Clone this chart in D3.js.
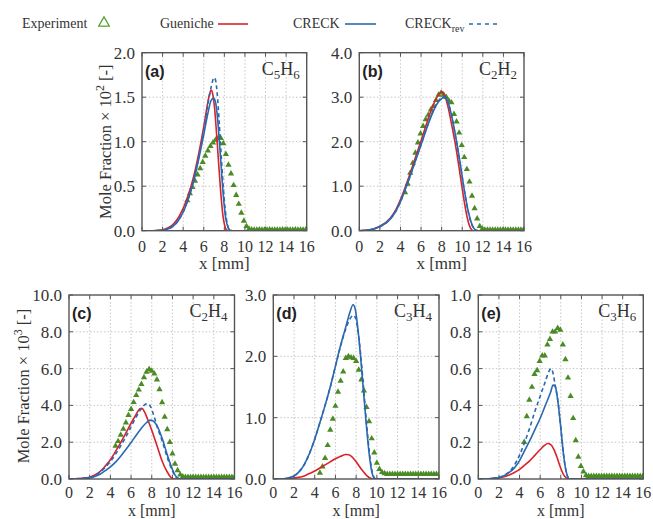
<!DOCTYPE html>
<html>
<head>
<meta charset="utf-8">
<script src="https://cdn.jsdelivr.net/npm/d3@7"></script>
<style>
  body { margin: 0; background: #fff; }
  svg { display: block; }
</style>
</head>
<body>
<script>
// ---------- Species profiles vs. height above burner x [mm] ----------
// Model curves are [x, value] pairs; experiments are separate x / value lists.

// (a) C5H6, mole fraction x 10^2
const c5h6Gueniche = [[0,0],[1,0],[2,0.01],[2.5,0.03],[3,0.07],[3.5,0.14],[4,0.25],[4.5,0.4],[5,0.6],[5.5,0.86],[6,1.17],[6.3,1.38],[6.55,1.53],[6.72,1.58],[6.88,1.53],[7.05,1.38],[7.25,1.08],[7.45,0.75],[7.65,0.43],[7.85,0.18],[8.05,0.05],[8.25,0.005],[8.5,0],[16,0]];
const c5h6Creck = [[0,0],[1,0],[2,0.005],[2.5,0.02],[3,0.05],[3.5,0.11],[4,0.21],[4.5,0.36],[5,0.55],[5.5,0.8],[6,1.08],[6.4,1.32],[6.7,1.46],[6.95,1.49],[7.15,1.44],[7.35,1.25],[7.55,0.95],[7.75,0.62],[7.95,0.33],[8.15,0.13],[8.35,0.04],[8.55,0.005],[8.8,0],[16,0]];
const c5h6CreckRev = [[0,0],[1,0],[2,0.005],[2.5,0.02],[3,0.05],[3.5,0.11],[4,0.21],[4.5,0.36],[5,0.56],[5.5,0.82],[6,1.13],[6.4,1.42],[6.75,1.63],[7.0,1.72],[7.15,1.69],[7.3,1.55],[7.5,1.22],[7.7,0.84],[7.9,0.48],[8.1,0.22],[8.3,0.07],[8.5,0.01],[8.75,0],[16,0]];
const c5h6ExpX = [4.4,4.65,4.9,5.15,5.4,5.65,5.9,6.15,6.4,6.65,6.9,7.15,7.4,7.65,7.9,8.15,8.4,8.65,8.9,9.15,9.4,9.65,9.9,10.15,10.4,10.65,10.9,11.15,11.4,11.65,11.9,12.15,12.4,12.65,12.9,13.15,13.4,13.65,13.9,14.15,14.4,14.65,14.9,15.15,15.4,15.65,15.9];
const c5h6ExpY = [0.34,0.42,0.49,0.56,0.63,0.7,0.77,0.84,0.9,0.95,0.99,1.02,1.04,1.04,0.98,0.86,0.74,0.64,0.51,0.4,0.3,0.2,0.11,0.05,0.02,0.012,0.01,0.01,0.012,0.01,0.01,0.01,0.012,0.01,0.01,0.01,0.01,0.012,0.01,0.01,0.01,0.01,0.012,0.01,0.01,0.01,0.01];

// (b) C2H2, mole fraction x 10^2
const c2h2Gueniche = [[0,0],[1,0.02],[2,0.1],[3,0.28],[3.5,0.45],[4,0.7],[4.5,1.0],[5,1.33],[5.5,1.68],[6,2.02],[6.5,2.38],[7,2.72],[7.5,2.98],[7.85,3.1],[8.05,3.12],[8.3,3.04],[8.6,2.8],[9,2.35],[9.4,1.85],[9.8,1.25],[10.2,0.65],[10.5,0.28],[10.8,0.06],[11.1,0],[16,0]];
const c2h2Creck = [[0,0],[1,0.02],[2,0.09],[3,0.26],[3.5,0.42],[4,0.65],[4.5,0.95],[5,1.27],[5.5,1.6],[6,1.93],[6.5,2.27],[7,2.58],[7.5,2.83],[8,2.97],[8.3,3.0],[8.6,2.9],[9,2.55],[9.4,2.07],[9.8,1.52],[10.2,0.92],[10.6,0.42],[11,0.11],[11.3,0.015],[11.6,0],[16,0]];
const c2h2CreckRev = [[0,0],[1,0.02],[2,0.09],[3,0.26],[3.5,0.42],[4,0.65],[4.5,0.95],[5,1.27],[5.5,1.61],[6,1.94],[6.5,2.28],[7,2.6],[7.5,2.85],[8,2.99],[8.3,3.02],[8.6,2.9],[9,2.54],[9.4,2.05],[9.8,1.5],[10.2,0.9],[10.6,0.4],[11,0.1],[11.3,0.01],[11.6,0],[16,0]];
const c2h2ExpX = [4.45,4.7,4.95,5.2,5.45,5.7,5.95,6.2,6.45,6.7,6.95,7.2,7.45,7.7,7.95,8.2,8.45,8.7,8.95,9.2,9.45,9.7,9.95,10.2,10.45,10.7,10.95,11.2,11.45,11.7,11.95,12.2,12.45,12.7,12.95,13.2,13.45,13.7,13.95,14.2,14.45,14.7,14.95,15.2,15.45,15.7,15.95];
const c2h2ExpY = [0.86,1.05,1.3,1.52,1.75,1.98,2.18,2.35,2.5,2.6,2.72,2.8,2.93,3.05,3.1,3.05,3.0,2.92,2.88,2.62,2.45,2.2,1.92,1.65,1.38,1.1,0.78,0.5,0.27,0.1,0.04,0.02,0.02,0.02,0.02,0.02,0.02,0.02,0.02,0.02,0.02,0.02,0.02,0.02,0.02,0.02,0.02];

// (c) C2H4, mole fraction x 10^3
const c2h4Gueniche = [[0,0],[1,0.02],[2,0.1],[2.5,0.22],[3,0.4],[3.5,0.7],[4,1.05],[4.5,1.5],[5,1.98],[5.5,2.5],[6,3.03],[6.5,3.52],[6.85,3.82],[7.05,3.84],[7.3,3.65],[7.6,3.25],[8,2.65],[8.5,1.82],[9,0.98],[9.5,0.38],[9.8,0.12],[10.1,0.01],[10.4,0],[16,0]];
const c2h4Creck = [[0,0],[1,0.01],[2,0.06],[2.5,0.14],[3,0.26],[3.5,0.45],[4,0.66],[4.5,0.92],[5,1.24],[5.5,1.6],[6,1.98],[6.5,2.38],[7,2.76],[7.5,3.07],[7.85,3.2],[8.1,3.17],[8.5,2.9],[9,2.22],[9.5,1.32],[10,0.52],[10.3,0.17],[10.6,0.03],[10.9,0],[16,0]];
const c2h4CreckRev = [[0,0],[1,0.02],[2,0.09],[2.5,0.2],[3,0.37],[3.5,0.63],[4,0.95],[4.5,1.35],[5,1.8],[5.5,2.3],[6,2.84],[6.5,3.38],[7,3.83],[7.35,4.05],[7.6,4.1],[7.9,3.92],[8.2,3.45],[8.5,2.88],[9,2.08],[9.5,1.18],[10,0.44],[10.3,0.13],[10.6,0.02],[10.9,0],[16,0]];
const c2h4ExpX = [4.5,4.75,5.0,5.25,5.5,5.75,6.0,6.25,6.5,6.75,7.0,7.25,7.5,7.75,8.0,8.25,8.5,8.75,9.0,9.25,9.5,9.75,10.0,10.25,10.5,10.75,11.0,11.25,11.5,11.75,12.0,12.25,12.5,12.75,13.0,13.25,13.5,13.75,14.0,14.25,14.5,14.75,15.0,15.25,15.5,15.75,16.0];
const c2h4ExpY = [1.8,2.05,2.4,2.72,3.06,3.47,3.8,4.17,4.55,4.85,5.15,5.52,5.82,5.97,5.87,5.72,5.4,4.87,4.16,3.37,2.7,2.0,1.38,0.82,0.47,0.24,0.13,0.1,0.1,0.1,0.1,0.1,0.1,0.1,0.1,0.1,0.1,0.1,0.1,0.1,0.1,0.1,0.1,0.1,0.1,0.1,0.1];

// (d) C3H4, mole fraction x 10^3
const c3h4Gueniche = [[0,0],[1,0.003],[2,0.015],[3,0.05],[3.5,0.09],[4,0.13],[4.5,0.18],[5,0.23],[5.5,0.28],[6,0.33],[6.5,0.37],[7,0.4],[7.3,0.395],[7.6,0.36],[8,0.28],[8.5,0.16],[9,0.06],[9.4,0.012],[9.7,0],[16,0]];
const c3h4Creck = [[0,0],[1,0.005],[2,0.05],[2.5,0.12],[3,0.24],[3.5,0.42],[4,0.65],[4.5,0.92],[5,1.2],[5.5,1.5],[6,1.84],[6.5,2.18],[7,2.48],[7.4,2.72],[7.7,2.84],[7.9,2.78],[8.1,2.55],[8.4,2.05],[8.7,1.45],[9,0.85],[9.3,0.35],[9.6,0.06],[9.85,0],[16,0]];
const c3h4CreckRev = [[0,0],[1,0.005],[2,0.05],[2.5,0.12],[3,0.24],[3.5,0.42],[4,0.65],[4.5,0.92],[5,1.2],[5.5,1.5],[6,1.84],[6.5,2.17],[7,2.45],[7.4,2.61],[7.75,2.67],[7.95,2.62],[8.15,2.45],[8.45,2.0],[8.75,1.42],[9.05,0.82],[9.35,0.33],[9.65,0.05],[9.9,0],[16,0]];
const c3h4ExpX = [4.5,4.75,5.0,5.25,5.5,5.75,6.0,6.25,6.5,6.75,7.0,7.25,7.5,7.75,8.0,8.25,8.5,8.75,9.0,9.25,9.5,9.75,10.0,10.25,10.5,10.75,11.0,11.25,11.5,11.75,12.0,12.25,12.5,12.75,13.0,13.25,13.5,13.75,14.0,14.25,14.5,14.75,15.0,15.25,15.5,15.75,16.0];
const c3h4ExpY = [0.1,0.2,0.34,0.55,0.8,0.98,1.19,1.42,1.6,1.75,1.97,2.0,1.98,1.97,1.92,1.78,1.62,1.44,1.17,0.94,0.66,0.43,0.26,0.16,0.11,0.09,0.08,0.08,0.08,0.08,0.08,0.08,0.08,0.08,0.08,0.08,0.08,0.08,0.08,0.08,0.08,0.08,0.08,0.08,0.08,0.08,0.08];

// (e) C3H6, mole fraction x 10^3
const c3h6Gueniche = [[0,0],[1,0.001],[2,0.006],[2.5,0.012],[3,0.022],[3.5,0.035],[4,0.052],[4.5,0.075],[5,0.1],[5.5,0.13],[6,0.16],[6.4,0.182],[6.75,0.193],[7.05,0.186],[7.35,0.158],[7.65,0.115],[7.95,0.065],[8.25,0.025],[8.55,0.005],[8.85,0],[16,0]];
const c3h6Creck = [[0,0],[1,0.001],[2,0.008],[2.5,0.018],[3,0.036],[3.5,0.06],[4,0.1],[4.5,0.155],[5,0.21],[5.5,0.27],[6,0.33],[6.5,0.4],[7,0.47],[7.25,0.51],[7.45,0.505],[7.65,0.45],[7.85,0.36],[8.05,0.25],[8.25,0.14],[8.45,0.06],[8.65,0.015],[8.85,0],[16,0]];
const c3h6CreckRev = [[0,0],[1,0.001],[2,0.009],[2.5,0.02],[3,0.04],[3.5,0.075],[4,0.13],[4.5,0.2],[5,0.28],[5.5,0.37],[6,0.45],[6.5,0.53],[6.85,0.585],[7.05,0.6],[7.25,0.575],[7.45,0.51],[7.65,0.45],[7.85,0.36],[8.05,0.25],[8.25,0.14],[8.45,0.06],[8.65,0.015],[8.85,0],[16,0]];
const c3h6ExpX = [4.45,4.7,4.95,5.2,5.45,5.7,5.95,6.2,6.45,6.7,6.95,7.2,7.45,7.7,7.95,8.2,8.45,8.7,8.95,9.2,9.45,9.7,9.95,10.2,10.45,10.7,10.95,11.2,11.45,11.7,11.95,12.2,12.45,12.7,12.95,13.2,13.45,13.7,13.95,14.2,14.45,14.7,14.95,15.2,15.45,15.7,15.95];
const c3h6ExpY = [0.2,0.34,0.43,0.5,0.57,0.59,0.64,0.67,0.67,0.73,0.76,0.8,0.8,0.82,0.81,0.73,0.65,0.55,0.45,0.33,0.21,0.12,0.07,0.04,0.02,0.015,0.015,0.015,0.015,0.015,0.015,0.015,0.015,0.015,0.015,0.015,0.015,0.015,0.015,0.015,0.015,0.015,0.015,0.015,0.015,0.015,0.015];

// Axis ticks
const xTicks = [0,2,4,6,8,10,12,14,16];
const yTicksA = [0,0.5,1.0,1.5,2.0];
const yTicksB = [0,1,2,3,4];
const yTicksC = [0,2,4,6,8,10];
const yTicksD = [0,1,2,3];
const yTicksE = [0,0.2,0.4,0.6,0.8,1.0];

// Legend entries
const legendLabels = ["Experiment", "Gueniche", "CRECK", "CRECK"];

// ---------- drawing ----------
const W = 653, H = 519;
const serif = "'Liberation Serif','Times New Roman',serif";
const sans = "'Liberation Sans',Arial,sans-serif";
const colExp = "#4b8b25", colRed = "#d8232a", colBlue = "#2a68b0";

const svg = d3.select("body").append("svg").attr("width", W).attr("height", H);

function subscripted(textSel, str, size) {
  // digits are drawn as subscripts
  let shifted = false;
  for (const ch of str) {
    const isDigit = /[0-9]/.test(ch);
    const t = textSel.append("tspan").text(ch);
    if (isDigit) {
      t.attr("font-size", size * 0.72);
      if (!shifted) { t.attr("dy", 4); shifted = true; }
    } else if (shifted) {
      t.attr("dy", -4); shifted = false;
    }
  }
}

let clipId = 0;
function panel(o) {
  const x = d3.scaleLinear().domain([0, 16]).range([o.left, o.left + o.width]);
  const y = d3.scaleLinear().domain([0, o.yTicks[o.yTicks.length - 1]]).range([o.top + o.height, o.top]);
  const g = svg.append("g");
  const id = "clip" + (clipId++);
  svg.append("clipPath").attr("id", id).append("rect")
    .attr("x", o.left).attr("y", o.top - 2).attr("width", o.width).attr("height", o.height + 2);

  // dotted grid
  g.selectAll(".gx").data(xTicks.slice(1, -1)).join("line")
    .attr("x1", d => x(d)).attr("x2", d => x(d))
    .attr("y1", o.top).attr("y2", o.top + o.height)
    .attr("stroke", "#b9b9b9").attr("stroke-width", 0.8).attr("stroke-dasharray", "1.5,2");
  g.selectAll(".gy").data(o.yTicks.slice(1, -1)).join("line")
    .attr("y1", d => y(d)).attr("y2", d => y(d))
    .attr("x1", o.left).attr("x2", o.left + o.width)
    .attr("stroke", "#b9b9b9").attr("stroke-width", 0.8).attr("stroke-dasharray", "1.5,2");

  // inward ticks on all four sides
  const tl = 4;
  const tk = g.append("g").attr("stroke", "#555").attr("stroke-width", 1);
  xTicks.forEach(t => {
    tk.append("line").attr("x1", x(t)).attr("x2", x(t)).attr("y1", o.top + o.height).attr("y2", o.top + o.height - tl);
    tk.append("line").attr("x1", x(t)).attr("x2", x(t)).attr("y1", o.top).attr("y2", o.top + tl);
  });
  o.yTicks.forEach(t => {
    tk.append("line").attr("y1", y(t)).attr("y2", y(t)).attr("x1", o.left).attr("x2", o.left + tl);
    tk.append("line").attr("y1", y(t)).attr("y2", y(t)).attr("x1", o.left + o.width).attr("x2", o.left + o.width - tl);
  });

  // series
  const plot = g.append("g").attr("clip-path", `url(#${id})`);
  const line = d3.line().x(d => x(d[0])).y(d => y(d[1])).curve(d3.curveMonotoneX);
  const expPts = o.expX.map((v, i) => [v, o.expY[i]]);
  plot.selectAll(".exp").data(expPts).join("path")
    .attr("d", d3.symbol(d3.symbolTriangle).size(17))
    .attr("transform", d => `translate(${x(d[0])},${y(d[1])})`)
    .attr("fill", colExp);
  plot.append("path").datum(o.gueniche).attr("d", line)
    .attr("fill", "none").attr("stroke", colRed).attr("stroke-width", 1.6);
  plot.append("path").datum(o.creck).attr("d", line)
    .attr("fill", "none").attr("stroke", colBlue).attr("stroke-width", 1.6);
  plot.append("path").datum(o.creckRev).attr("d", line)
    .attr("fill", "none").attr("stroke", colBlue).attr("stroke-width", 1.6)
    .attr("stroke-dasharray", "4,3");

  // frame
  g.append("rect").attr("x", o.left).attr("y", o.top).attr("width", o.width).attr("height", o.height)
    .attr("fill", "none").attr("stroke", "#555").attr("stroke-width", 1.4);

  // tick labels
  g.selectAll(".xl").data(xTicks).join("text")
    .attr("x", d => x(d)).attr("y", o.top + o.height + o.xLabelGap)
    .attr("text-anchor", "middle").attr("font-family", serif).attr("font-size", 16).attr("fill", "#333")
    .text(d => d);
  g.selectAll(".yl").data(o.yTicks).join("text")
    .attr("x", o.left - 7).attr("y", d => y(d)).attr("dy", "0.35em")
    .attr("text-anchor", "end").attr("font-family", serif).attr("font-size", 17).attr("fill", "#333")
    .text(d => d3.format(".1f")(d));

  // x axis title
  g.append("text").attr("x", o.left + o.width / 2).attr("y", o.top + o.height + o.xTitleGap)
    .attr("text-anchor", "middle").attr("font-family", serif).attr("font-size", o.xTitleSize).attr("fill", "#333")
    .text("x [mm]");

  // panel tag and species
  g.append("text").attr("x", o.left + 3).attr("y", o.top + 24)
    .attr("font-family", sans).attr("font-weight", "bold").attr("font-size", 16).attr("fill", "#222")
    .text(o.tag);
  const sp = g.append("text").attr("x", o.left + o.width - 7).attr("y", o.top + 22)
    .attr("text-anchor", "end").attr("font-family", serif).attr("font-size", 18).attr("fill", "#333");
  subscripted(sp, o.species, 18);
}

const topH = 178, botH = 184, pw = 164.7;
const topRow = { xLabelGap: 21, xTitleGap: 38, xTitleSize: 17 };
const botRow = { xLabelGap: 18.5, xTitleGap: 36.5, xTitleSize: 16 };
panel({ ...topRow, left: 142, top: 52.7, width: pw, height: topH, yTicks: yTicksA, tag: "(a)", species: "C5H6",
  gueniche: c5h6Gueniche, creck: c5h6Creck, creckRev: c5h6CreckRev, expX: c5h6ExpX, expY: c5h6ExpY });
panel({ ...topRow, left: 359.3, top: 52.7, width: pw, height: topH, yTicks: yTicksB, tag: "(b)", species: "C2H2",
  gueniche: c2h2Gueniche, creck: c2h2Creck, creckRev: c2h2CreckRev, expX: c2h2ExpX, expY: c2h2ExpY });
panel({ ...botRow, left: 69, top: 295, width: 165.5, height: botH, yTicks: yTicksC, tag: "(c)", species: "C2H4",
  gueniche: c2h4Gueniche, creck: c2h4Creck, creckRev: c2h4CreckRev, expX: c2h4ExpX, expY: c2h4ExpY });
panel({ ...botRow, left: 273.3, top: 295, width: 165.7, height: botH, yTicks: yTicksD, tag: "(d)", species: "C3H4",
  gueniche: c3h4Gueniche, creck: c3h4Creck, creckRev: c3h4CreckRev, expX: c3h4ExpX, expY: c3h4ExpY });
panel({ ...botRow, left: 478.3, top: 295, width: 165, height: botH, yTicks: yTicksE, tag: "(e)", species: "C3H6",
  gueniche: c3h6Gueniche, creck: c3h6Creck, creckRev: c3h6CreckRev, expX: c3h6ExpX, expY: c3h6ExpY });

// y axis titles
function yTitle(cx, cy, power) {
  const t = svg.append("text").attr("transform", `translate(${cx},${cy}) rotate(-90)`)
    .attr("text-anchor", "middle").attr("font-family", serif).attr("font-size", 16.5).attr("fill", "#333");
  t.append("tspan").text("Mole Fraction \u00d7 10");
  t.append("tspan").text(power).attr("font-size", 12).attr("dy", -7);
  t.append("tspan").text(" [-]").attr("dy", 7);
}
yTitle(110.5, 141.7, "2");
yTitle(28.5, 386, "3");

// legend
const lg = svg.append("g").attr("font-family", serif).attr("font-size", 14).attr("fill", "#333");
lg.append("text").attr("x", 22).attr("y", 28).text(legendLabels[0]);
lg.append("path").attr("d", d3.symbol(d3.symbolTriangle).size(48))
  .attr("transform", "translate(104,23)").attr("fill", "none").attr("stroke", "#5a9e30").attr("stroke-width", 1.3);
lg.append("text").attr("x", 160).attr("y", 28).text(legendLabels[1]);
lg.append("line").attr("x1", 218).attr("x2", 248).attr("y1", 24).attr("y2", 24).attr("stroke", colRed).attr("stroke-width", 1.6);
lg.append("text").attr("x", 293).attr("y", 28).text(legendLabels[2]);
lg.append("line").attr("x1", 345).attr("x2", 376).attr("y1", 24).attr("y2", 24).attr("stroke", colBlue).attr("stroke-width", 1.6);
const rev = lg.append("text").attr("x", 405).attr("y", 28);
rev.append("tspan").text(legendLabels[3]);
rev.append("tspan").text("rev").attr("font-size", 10).attr("dy", 4);
lg.append("line").attr("x1", 469).attr("x2", 500).attr("y1", 24).attr("y2", 24).attr("stroke", colBlue)
  .attr("stroke-width", 1.6).attr("stroke-dasharray", "4,4");
</script>
</body>
</html>
